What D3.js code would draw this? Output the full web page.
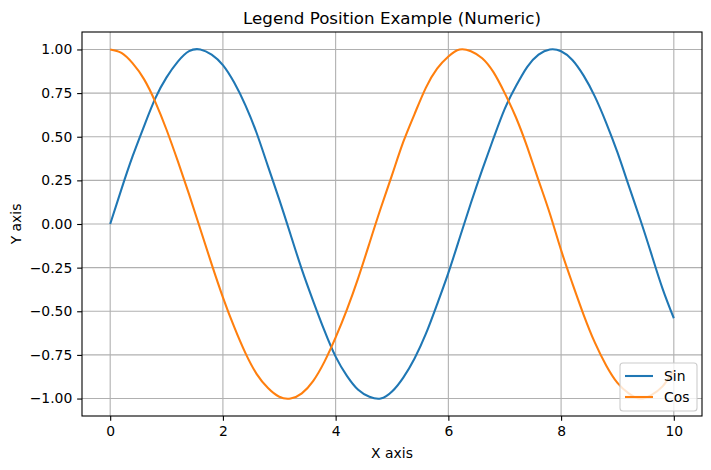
<!DOCTYPE html>
<html>
<head>
<meta charset="utf-8">
<script src="https://cdn.jsdelivr.net/npm/d3@7"></script>
<style>
  html, body { margin: 0; padding: 0; background: #fff; }
  svg { display: block; font-family: "DejaVu Sans", sans-serif; }
</style>
</head>
<body>
<svg id="chart" width="711" height="470"></svg>
<script>
const xValues = [0,0.2,0.4,0.6,0.8,1.0,1.2,1.4,1.6,1.8,2.0,2.2,2.4,2.6,2.8,3.0,3.2,3.4,3.6,3.8,4.0,4.2,4.4,4.6,4.8,5.0,5.2,5.4,5.6,5.8,6.0,6.2,6.4,6.6,6.8,7.0,7.2,7.4,7.6,7.8,8.0,8.2,8.4,8.6,8.8,9.0,9.2,9.4,9.6,9.8,10.0];
const sinValues = [0.00,0.20,0.39,0.56,0.72,0.84,0.93,0.99,1.00,0.97,0.91,0.81,0.68,0.52,0.33,0.14,-0.06,-0.26,-0.44,-0.61,-0.76,-0.87,-0.95,-0.99,-1.00,-0.96,-0.88,-0.77,-0.63,-0.46,-0.28,-0.08,0.12,0.31,0.49,0.66,0.79,0.90,0.97,1.00,0.99,0.94,0.85,0.73,0.58,0.41,0.22,0.03,-0.17,-0.37,-0.54];
const cosValues = [1.00,0.98,0.92,0.83,0.70,0.54,0.36,0.17,-0.03,-0.23,-0.42,-0.59,-0.74,-0.86,-0.94,-0.99,-1.00,-0.97,-0.90,-0.79,-0.65,-0.49,-0.31,-0.11,0.09,0.28,0.47,0.63,0.78,0.89,0.96,1.00,0.99,0.95,0.87,0.75,0.61,0.44,0.25,0.06,-0.15,-0.34,-0.52,-0.68,-0.81,-0.91,-0.97,-1.00,-0.98,-0.93,-0.84];
const seriesNames = ["Sin", "Cos"];
const seriesColors = ["#1f77b4", "#ff7f0e"];
const xTicks = [0, 2, 4, 6, 8, 10];
const yTicks = [-1.00, -0.75, -0.50, -0.25, 0.00, 0.25, 0.50, 0.75, 1.00];
const titleText = "Legend Position Example (Numeric)";
const xLabel = "X axis";
const yLabel = "Y axis";

const svg = d3.select("#chart");
const m = { left: 82, right: 702, top: 32, bottom: 416 };
const x = d3.scaleLinear().domain([-0.5, 10.5]).range([m.left, m.right]);
const y = d3.scaleLinear().domain([-1.1, 1.1]).range([m.bottom, m.top]);

const fmtY = v => (v < 0 ? "\u2212" : "") + Math.abs(v).toFixed(2);
const fs = "13.9px";

// grid
const grid = svg.append("g");
grid.selectAll("line.gx").data(xTicks).join("line")
  .attr("x1", d => x(d)).attr("x2", d => x(d))
  .attr("y1", m.top).attr("y2", m.bottom)
  .attr("stroke", "#b0b0b0").attr("stroke-width", 1.1);
grid.selectAll("line.gy").data(yTicks).join("line")
  .attr("y1", d => y(d)).attr("y2", d => y(d))
  .attr("x1", m.left).attr("x2", m.right)
  .attr("stroke", "#b0b0b0").attr("stroke-width", 1.1);

// lines
const series = [sinValues, cosValues];
const line = d3.line().x((d, i) => x(xValues[i])).y(d => y(d)).curve(d3.curveNatural);
svg.append("clipPath").attr("id", "clip").append("rect")
  .attr("x", m.left).attr("y", m.top).attr("width", m.right - m.left).attr("height", m.bottom - m.top);
series.forEach((s, k) => {
  svg.append("path").datum(s)
    .attr("d", line)
    .attr("fill", "none")
    .attr("stroke", seriesColors[k])
    .attr("stroke-width", 2.08)
    .attr("stroke-linejoin", "round")
    .attr("stroke-linecap", "butt")
    .attr("clip-path", "url(#clip)");
});

// axes
const xAxis = d3.axisBottom(x).tickValues(xTicks).tickSize(4.86).tickPadding(4.86).tickFormat(d3.format("d"));
const yAxis = d3.axisLeft(y).tickValues(yTicks).tickSize(4.86).tickPadding(4.86).tickFormat(fmtY);
const gx = svg.append("g").attr("transform", `translate(0,${m.bottom})`).call(xAxis);
const gy = svg.append("g").attr("transform", `translate(${m.left},0)`).call(yAxis);
[gx, gy].forEach(g => {
  g.select(".domain").remove();
  g.selectAll(".tick line").attr("stroke", "#000").attr("stroke-width", 1.1);
  g.selectAll(".tick text").attr("fill", "#000").style("font-size", fs).style("font-family", "DejaVu Sans");
});

// frame
svg.append("rect")
  .attr("x", m.left).attr("y", m.top)
  .attr("width", m.right - m.left).attr("height", m.bottom - m.top)
  .attr("fill", "none").attr("stroke", "#000").attr("stroke-width", 1.1);

// title & labels
svg.append("text").attr("x", (m.left + m.right) / 2).attr("y", 24)
  .attr("text-anchor", "middle").style("font-size", "16.7px").text(titleText);
svg.append("text").attr("x", (m.left + m.right) / 2).attr("y", 458)
  .attr("text-anchor", "middle").style("font-size", fs).text(xLabel);
svg.append("text").attr("transform", `translate(21,${(m.top + m.bottom) / 2}) rotate(-90)`)
  .attr("text-anchor", "middle").style("font-size", fs).text(yLabel);

// legend
const lg = svg.append("g");
lg.append("rect").attr("x", 620).attr("y", 363).attr("width", 77).attr("height", 48)
  .attr("rx", 3).attr("ry", 3)
  .attr("fill", "#fff").attr("fill-opacity", 0.8)
  .attr("stroke", "#cccccc").attr("stroke-width", 1.1);
seriesNames.forEach((name, i) => {
  const yy = 376 + i * 21;
  lg.append("line").attr("x1", 625).attr("x2", 653).attr("y1", yy).attr("y2", yy)
    .attr("stroke", seriesColors[i]).attr("stroke-width", 2.08);
  lg.append("text").attr("x", 664).attr("y", yy + 5)
    .style("font-size", fs).text(name);
});
</script>
</body>
</html>
